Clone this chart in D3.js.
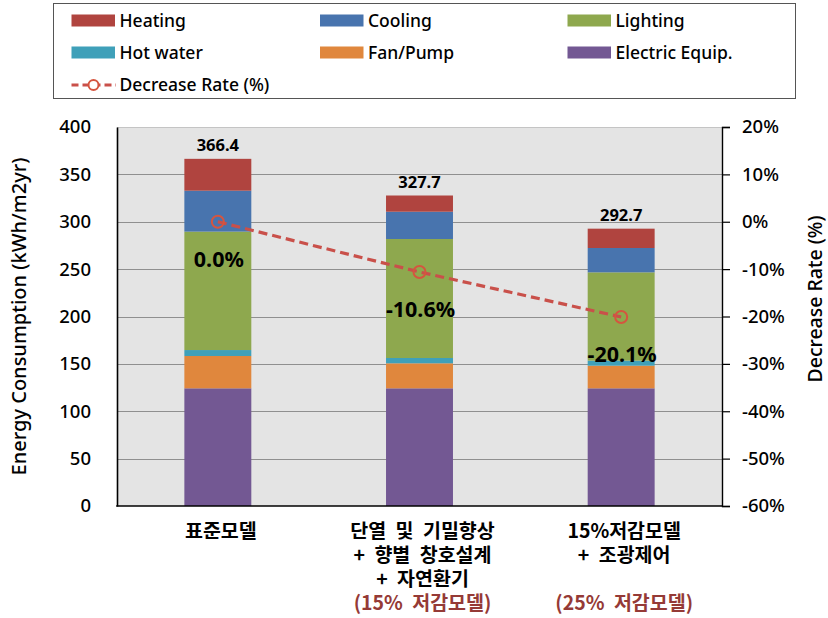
<!DOCTYPE html>
<html>
<head>
<meta charset="utf-8">
<script src="https://cdn.jsdelivr.net/npm/d3@7"></script>
<style>
  html, body { margin: 0; padding: 0; background: #ffffff; }
  svg { display: block; }
  text { font-family: "Noto Sans", "Noto Sans CJK KR", sans-serif; fill: #000; }
  .kr { font-family: "Noto Sans CJK KR", "Noto Sans", sans-serif; }
</style>
</head>
<body>
<svg id="chart" width="828" height="618"></svg>
<script>
// ---- data ----
const categories = ["표준모델", "15% 저감모델", "25% 저감모델"];
const categoryLines = [
  ["표준모델", "", "", ""],
  ["단열 및 기밀향상", "+ 향별 창호설계", "+ 자연환기", "(15% 저감모델)"],
  ["15%저감모델", "+ 조광제어", "", "(25% 저감모델)"]
];
const seriesNames = ["Heating", "Cooling", "Lighting", "Hot water", "Fan/Pump", "Electric Equip."];
const heating   = [33.6, 17.1, 20.4];
const cooling   = [43.2, 28.8, 25.7];
const lighting  = [125.0, 125.6, 93.2];
const hotWater  = [6.3, 5.6, 5.3];
const fanPump   = [34.1, 26.4, 23.9];
const electric  = [124.2, 124.2, 124.2];
const decreaseRate = [0.0, -10.6, -20.1];
const leftTicks  = [0, 50, 100, 150, 200, 250, 300, 350, 400];
const rightTicks = [20, 10, 0, -10, -20, -30, -40, -50, -60];

const colors = {
  "Heating": "#b0443f",
  "Cooling": "#4874ae",
  "Lighting": "#8ea84e",
  "Hot water": "#3fa0b9",
  "Fan/Pump": "#e0873d",
  "Electric Equip.": "#735893"
};
const lineColor = "#c9504a";

// rows for the stack
const seriesValues = {
  "Heating": heating, "Cooling": cooling, "Lighting": lighting,
  "Hot water": hotWater, "Fan/Pump": fanPump, "Electric Equip.": electric
};
const rows = categories.map((c, i) => {
  const r = { category: c, rate: decreaseRate[i] };
  seriesNames.forEach(s => r[s] = seriesValues[s][i]);
  return r;
});
const stackOrder = ["Electric Equip.", "Fan/Pump", "Hot water", "Lighting", "Cooling", "Heating"];
const stacked = d3.stack().keys(stackOrder)(rows);
const totals = rows.map(r => d3.sum(seriesNames, s => r[s]));

// ---- layout ----
const svg = d3.select("#chart");
const plot = { left: 117, right: 722, top: 127, bottom: 506 };

const x = d3.scaleBand().domain(categories).range([plot.left, plot.right])
  .paddingInner(0.668).paddingOuter(0.334);
const y = d3.scaleLinear().domain([0, 400]).range([plot.bottom, plot.top]);
const y2 = d3.scaleLinear().domain([-60, 20]).range([plot.bottom, plot.top]);

// plot background
svg.append("rect")
  .attr("x", plot.left).attr("y", plot.top)
  .attr("width", plot.right - plot.left).attr("height", plot.bottom - plot.top)
  .attr("fill", "#e4e4e4");

// gridlines
svg.append("g")
  .selectAll("line")
  .data(leftTicks.filter(t => t > 0 && t < 400))
  .join("line")
  .attr("x1", plot.left).attr("x2", plot.right)
  .attr("y1", d => Math.round(y(d)) + 0.5).attr("y2", d => Math.round(y(d)) + 0.5)
  .attr("stroke", "#8f8f8f").attr("stroke-width", 1);

// top border of plot area
svg.append("line")
  .attr("x1", plot.left).attr("x2", plot.right)
  .attr("y1", plot.top + 0.5).attr("y2", plot.top + 0.5)
  .attr("stroke", "#c4c4c4").attr("stroke-width", 1);

// stacked bars
svg.append("g")
  .selectAll("g")
  .data(stacked)
  .join("g")
  .attr("fill", d => colors[d.key])
  .selectAll("rect")
  .data(d => d)
  .join("rect")
  .attr("x", d => x(d.data.category))
  .attr("width", x.bandwidth())
  .attr("y", d => y(d[1]))
  .attr("height", d => y(d[0]) - y(d[1]));

// totals above bars
svg.append("g")
  .selectAll("text")
  .data(rows)
  .join("text")
  .attr("x", d => x(d.category) + x.bandwidth() / 2)
  .attr("y", (d, i) => y(totals[i]) - 8)
  .attr("text-anchor", "middle")
  .attr("font-size", 16.5)
  .attr("font-weight", "bold")
  .text((d, i) => totals[i].toFixed(1));

// axes
const leftAxis = d3.axisLeft(y).tickValues(leftTicks).tickSize(0).tickPadding(26)
  .tickFormat(d3.format("d"));
const gL = svg.append("g").attr("transform", `translate(${plot.left},0)`).call(leftAxis);
gL.select(".domain").attr("stroke", "#000").attr("stroke-width", 1.6);
gL.selectAll("text").attr("font-size", 18.5).attr("font-weight", 500)
  .attr("font-family", "'Noto Sans', sans-serif").attr("fill", "#000");

const rightAxis = d3.axisRight(y2).tickValues(rightTicks).tickSize(8).tickPadding(12)
  .tickFormat(d => d + "%");
const gR = svg.append("g").attr("transform", `translate(${plot.right},0)`).call(rightAxis);
gR.select(".domain").attr("stroke", "#000").attr("stroke-width", 1.4);
gR.selectAll(".tick line").attr("stroke", "#000").attr("stroke-width", 1.2);
gR.selectAll("text").attr("font-size", 18.5).attr("font-weight", 500)
  .attr("font-family", "'Noto Sans', sans-serif").attr("fill", "#000");

// bottom axis line
svg.append("line")
  .attr("x1", plot.left - 0.8).attr("x2", plot.right)
  .attr("y1", plot.bottom).attr("y2", plot.bottom)
  .attr("stroke", "#000").attr("stroke-width", 1.6);

// decrease-rate line
const cx = c => x(c) + x.bandwidth() / 2;
svg.append("path")
  .datum(rows)
  .attr("fill", "none")
  .attr("stroke", lineColor)
  .attr("stroke-width", 3.2)
  .attr("stroke-dasharray", "9,5")
  .attr("d", d3.line().x(d => cx(d.category)).y(d => y2(d.rate)));

svg.append("g")
  .selectAll("circle")
  .data(rows)
  .join("circle")
  .attr("cx", d => cx(d.category))
  .attr("cy", d => y2(d.rate))
  .attr("r", 6)
  .attr("fill", "none")
  .attr("stroke", "#d5553f")
  .attr("stroke-width", 2);

// rate labels
svg.append("g")
  .selectAll("text")
  .data(rows)
  .join("text")
  .attr("x", d => cx(d.category) + 1)
  .attr("y", d => y2(d.rate) + 45)
  .attr("text-anchor", "middle")
  .attr("font-size", 21.5)
  .attr("font-weight", "bold")
  .text(d => d.rate.toFixed(1) + "%");

// category labels: one multi-line text block per category
const lineY = [531, 555, 579, 603];
const catText = svg.append("g")
  .selectAll("text")
  .data(categories)
  .join("text")
  .attr("class", "kr")
  .attr("text-anchor", "middle")
  .attr("font-size", 19.5)
  .attr("font-weight", "bold")
  .attr("word-spacing", "5px");
catText.each(function (c, i) {
  const t = d3.select(this);
  categoryLines[i].forEach((line, j) => {
    if (!line) return;
    t.append("tspan")
      .attr("x", cx(c) + 3)
      .attr("y", lineY[j])
      .attr("dy", "0.36em")
      .style("fill", j === 3 ? "#953a36" : "#000")
      .text(line);
  });
});

// axis titles
svg.append("text")
  .attr("transform", `translate(18.5,${(plot.top + plot.bottom) / 2}) rotate(-90)`)
  .attr("dy", "0.35em")
  .attr("text-anchor", "middle")
  .attr("font-size", 20)
  .attr("font-weight", 500)
  .text("Energy Consumption (kWh/m2yr)");

svg.append("text")
  .attr("transform", `translate(815.5,299) rotate(-90)`)
  .attr("dy", "0.35em")
  .attr("text-anchor", "middle")
  .attr("font-size", 19.5)
  .attr("font-weight", 500)
  .text("Decrease Rate (%)");

// legend
const legend = svg.append("g");
legend.append("rect")
  .attr("x", 53.5).attr("y", 3.5).attr("width", 742).attr("height", 95)
  .attr("fill", "#fff").attr("stroke", "#555").attr("stroke-width", 1);

const colX = [71.5, 320, 567.5];
const rowY = [20.5, 52.5];
seriesNames.forEach((s, i) => {
  const lx = colX[i % 3], ly = rowY[Math.floor(i / 3)];
  legend.append("rect")
    .attr("x", lx).attr("y", ly - 6).attr("width", 43.5).attr("height", 12)
    .attr("fill", colors[s]);
  legend.append("text")
    .attr("x", lx + 48).attr("y", ly).attr("dy", "0.35em")
    .attr("font-size", 17.5).attr("font-weight", 500)
    .text(s);
});
// line entry
const ly3 = 85;
legend.append("line")
  .attr("x1", 71.5).attr("x2", 116).attr("y1", ly3).attr("y2", ly3)
  .attr("stroke", lineColor).attr("stroke-width", 3).attr("stroke-dasharray", "7,4");
legend.append("circle")
  .attr("cx", 93.5).attr("cy", ly3).attr("r", 5)
  .attr("fill", "#fff").attr("stroke", "#d5553f").attr("stroke-width", 2);
legend.append("text")
  .attr("x", 119.5).attr("y", ly3).attr("dy", "0.35em")
  .attr("font-size", 17.5).attr("font-weight", 500)
  .text("Decrease Rate (%)");
</script>
</body>
</html>
